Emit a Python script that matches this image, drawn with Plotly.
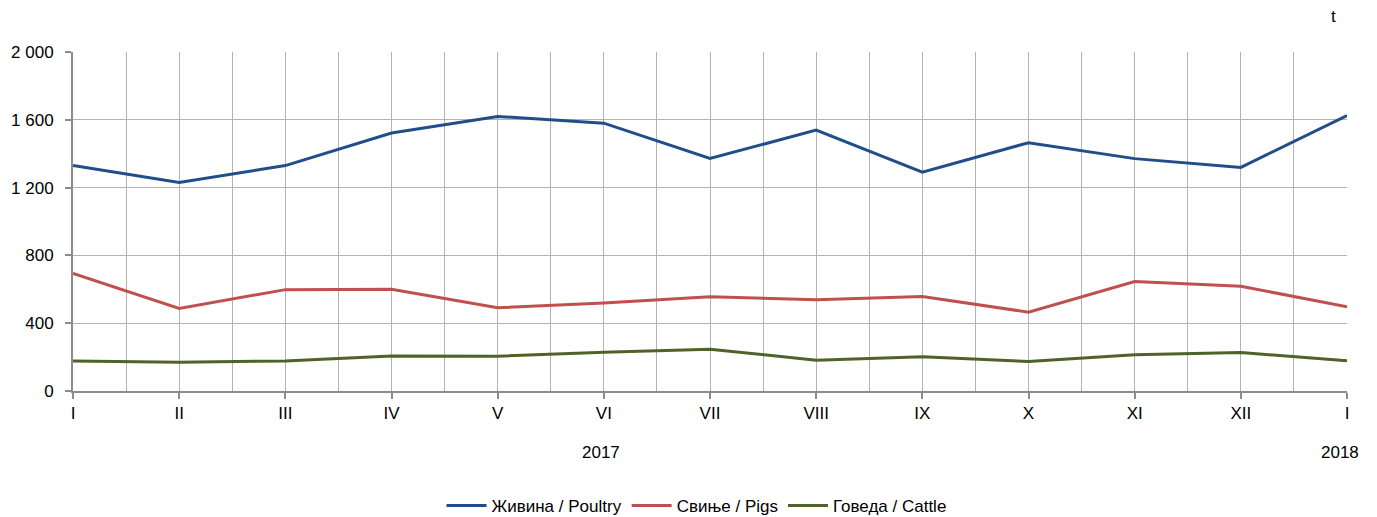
import plotly.graph_objects as go

months = ["I", "II", "III", "IV", "V", "VI", "VII", "VIII", "IX", "X", "XI", "XII", "I"]
poultry = [1330, 1230, 1330, 1522, 1620, 1580, 1372, 1539, 1291, 1465, 1371, 1319, 1625]
pigs = [694, 487, 598, 600, 491, 519, 556, 539, 558, 465, 646, 618, 497]
cattle = [177, 170, 177, 207, 205, 228, 246, 182, 202, 174, 214, 227, 179]
series_names = ["Живина / Poultry", "Свиње / Pigs", "Говеда / Cattle"]
colors = ["#1f4e89", "#c0504d", "#4f6228"]
years = [("2017", 4.97), ("2018", 11.93)]
y_ticks = [0, 400, 800, 1200, 1600, 2000]
y_tick_text = ["0", "400", "800", "1 200", "1 600", "2 000"]

FONT = "Liberation Sans, Arial, sans-serif"
FS = 17
x = list(range(len(months)))

# page body has an 8px margin; plot area in window: x 73..1347, y 52..391
W, H = 1377, 517
L, T = 65, 44
R = W - 1339
B = H - 383
plot_h = H - T - B

fig = go.Figure()
for name, vals, col in zip(series_names, [poultry, pigs, cattle], colors):
    fig.add_trace(go.Scatter(x=x, y=vals, mode="lines", name=name,
                             line=dict(color=col, width=3)))

for label, pos in years:
    fig.add_annotation(x=pos, y=-61 / plot_h, xref="x", yref="paper", text=label,
                       showarrow=False, yanchor="middle",
                       font=dict(family=FONT, size=FS, color="#000"))
fig.add_annotation(x=(1338 - 73) / (1347 - 73), y=1 + (52 - 16) / plot_h,
                   xref="paper", yref="paper", text="t", showarrow=False,
                   yanchor="middle", font=dict(family=FONT, size=FS, color="#000"))

fig.update_layout(
    width=W, height=H,
    margin=dict(l=L, r=R, t=T, b=B, autoexpand=False),
    paper_bgcolor="white", plot_bgcolor="white",
    font=dict(family=FONT, size=FS, color="#000"),
    showlegend=True,
    legend=dict(orientation="h", x=0.5, xref="container", xanchor="center",
                y=1 - (506 - 8) / H, yref="container", yanchor="middle",
                itemwidth=40,
                font=dict(family=FONT, size=FS, color="#000")),
    xaxis=dict(range=[0, 12], tickvals=x, ticktext=months, showgrid=True,
               gridcolor="#b3b3b3", gridwidth=1,
               minor=dict(dtick=0.5, tick0=0, showgrid=True, gridcolor="#b3b3b3", gridwidth=1),
               showline=True, linecolor="#8c8c8c", linewidth=2,
               ticks="outside", ticklen=6, tickcolor="#8c8c8c", tickwidth=2,
               zeroline=False, tickfont=dict(family=FONT, size=FS)),
    yaxis=dict(range=[0, 2000], tickvals=y_ticks, ticktext=y_tick_text, showgrid=True,
               gridcolor="#b3b3b3", gridwidth=1,
               showline=True, linecolor="#8c8c8c", linewidth=2,
               ticks="outside", ticklen=6, tickcolor="#8c8c8c", tickwidth=2,
               ticklabelstandoff=8,
               zeroline=False, tickfont=dict(family=FONT, size=FS)),
)

fig.write_html("out.html")
